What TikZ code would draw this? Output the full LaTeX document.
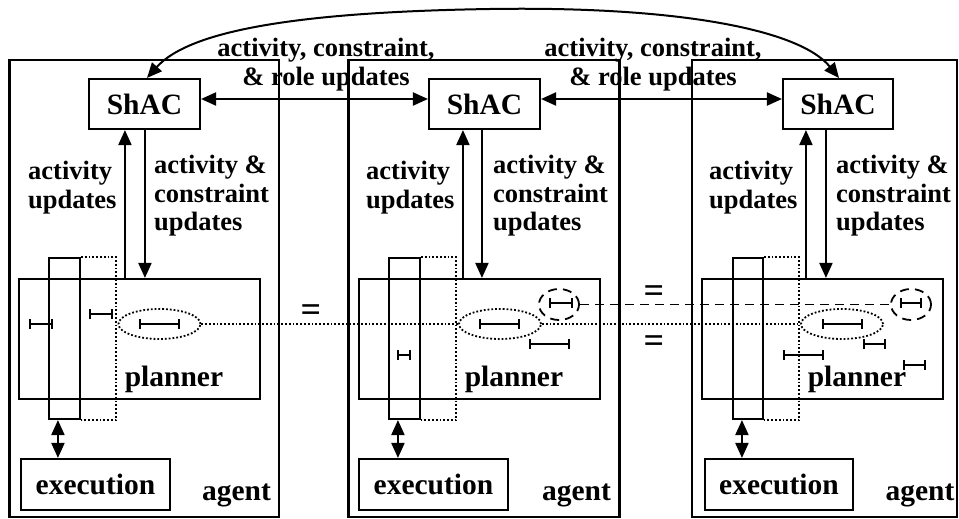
\documentclass[tikz,border=0pt]{standalone}
\usepackage{fontspec}
\setmainfont{Liberation Serif}
\usetikzlibrary{arrows.meta,calc,shapes.geometric}
\begin{document}
\begin{tikzpicture}[x=1pt,y=-1pt,
  box/.style={draw,line width=2.1pt,inner sep=0pt},
  boxtxt/.style={font=\fontsize{29.5}{32}\selectfont\bfseries},
  lbl/.style={font=\fontsize{26.5}{28.5}\selectfont\bfseries,inner sep=0pt},
  arr/.style={line width=2pt,-{Triangle[length=15pt,width=13pt]}},
  darr/.style={line width=2pt,{Triangle[length=15pt,width=13pt]}-{Triangle[length=15pt,width=13pt]}},
  ival/.style={line width=1.7pt,{Bar[width=10pt]}-{Bar[width=10pt]}},
  dotl/.style={line width=1.8pt,dotted},
  dashl/.style={line width=1.8pt,dash pattern=on 9pt off 6pt},
  eqs/.style={font=\fontsize{36}{36}\selectfont\bfseries,inner sep=0pt},
  ell/.style={draw,dotl,ellipse,inner sep=0pt,minimum width=82pt,minimum height=30pt},
  dcirc/.style={draw,dashl,ellipse,inner sep=0pt,minimum width=40pt,minimum height=31pt},
]
\useasboundingbox (0,0) rectangle (959,519);

% agent boxes
\node[box,minimum width=269.5pt,minimum height=457pt] (ag1) at (144.25,288.5) {};
\node[box,minimum width=271pt,minimum height=457pt] (ag2) at (484,288.5) {};
\node[box,minimum width=265pt,minimum height=457pt] (ag3) at (824.5,288.5) {};

% ShAC boxes
\node[box,boxtxt,minimum width=111pt,minimum height=50pt] (sh1) at (144.5,104) {ShAC};
\node[box,boxtxt,minimum width=111pt,minimum height=50pt] (sh2) at (484.5,104) {ShAC};
\node[box,boxtxt,minimum width=110pt,minimum height=50pt] (sh3) at (838,104) {ShAC};

% planner boxes
\node[box,minimum width=241pt,minimum height=120pt] (pl1) at (139.5,339) {};
\node[box,minimum width=241pt,minimum height=120pt] (pl2) at (479.5,339) {};
\node[box,minimum width=241pt,minimum height=120pt] (pl3) at (822.5,339) {};
\node[boxtxt,inner sep=0pt] at (174,379) {planner};
\node[boxtxt,inner sep=0pt] at (514,379) {planner};
\node[boxtxt,inner sep=0pt] at (857,379) {planner};

% bars
\node[box,minimum width=31pt,minimum height=161pt] (bar1) at (64.5,338.5) {};
\node[box,minimum width=31pt,minimum height=161pt] (bar2) at (404.5,338.5) {};
\node[box,minimum width=30pt,minimum height=161pt] (bar3) at (748,338.5) {};
\draw[dotl] (bar1.north east) -- ++(35,0) |- (bar1.south east);
\draw[dotl] (bar2.north east) -- ++(35,0) |- (bar2.south east);
\draw[dotl] (bar3.north east) -- ++(35,0) |- (bar3.south east);

% execution boxes
\node[box,boxtxt,minimum width=149pt,minimum height=51pt] (ex1) at (95.5,484.5) {execution};
\node[box,boxtxt,minimum width=149pt,minimum height=51pt] (ex2) at (433.5,484.5) {execution};
\node[box,boxtxt,minimum width=148pt,minimum height=51pt] (ex3) at (779,484.5) {execution};

% agent labels
\node[boxtxt,inner sep=0pt] at (236.5,495) {agent};
\node[boxtxt,inner sep=0pt] at (576.5,495) {agent};
\node[boxtxt,inner sep=0pt] at (920,495) {agent};

% bar <-> execution
\coordinate (e1) at ($(bar1.south west)+(10,0)$);
\coordinate (e2) at ($(bar2.south west)+(10,0)$);
\coordinate (e3) at ($(bar3.south west)+(10,0)$);
\draw[darr] (e1) -- (e1 |- ex1.north);
\draw[darr] (e2) -- (e2 |- ex2.north);
\draw[darr] (e3) -- (e3 |- ex3.north);

% planner <-> ShAC
\coordinate (u1) at ($(sh1.south west)+(37,0)$);
\coordinate (d1) at ($(sh1.south west)+(57,0)$);
\coordinate (u2) at ($(sh2.south west)+(35,0)$);
\coordinate (d2) at ($(sh2.south west)+(54,0)$);
\coordinate (u3) at ($(sh3.south west)+(24,0)$);
\coordinate (d3) at ($(sh3.south west)+(44,0)$);
\draw[arr] (u1 |- pl1.north) -- (u1);
\draw[arr] (d1) -- (d1 |- pl1.north);
\draw[arr] (u2 |- pl2.north) -- (u2);
\draw[arr] (d2) -- (d2 |- pl2.north);
\draw[arr] (u3 |- pl3.north) -- (u3);
\draw[arr] (d3) -- (d3 |- pl3.north);

% ShAC <-> ShAC
\draw[darr] ([yshift=5pt]sh1.east) -- ([yshift=5pt]sh2.west);
\draw[darr] ([yshift=5pt]sh2.east) -- ([yshift=5pt]sh3.west);
\draw[darr] ([xshift=2.5pt]sh1.north) .. controls (190,30) and (300,12) .. (490,9)
   .. controls (680,6) and (800,30) .. ([xshift=1pt]sh3.north);

% labels
\node[lbl,align=center,anchor=north] at (326,38) {activity, constraint,\\\& role updates};
\node[lbl,align=center,anchor=north] at (653,38) {activity, constraint,\\\& role updates};
\node[lbl,align=left,anchor=north west] at (28,161) {activity\\updates};
\node[lbl,align=left,anchor=north west] at (366,161) {activity\\updates};
\node[lbl,align=left,anchor=north west] at (709,161) {activity\\updates};
\node[lbl,align=left,anchor=north west] at (154,155) {activity \&\\constraint\\updates};
\node[lbl,align=left,anchor=north west] at (493,155) {activity \&\\constraint\\updates};
\node[lbl,align=left,anchor=north west] at (836,155) {activity \&\\constraint\\updates};

% ellipses and dashed circles
\node[ell] (el1) at (159.5,324) {};
\node[ell] (el2) at (500,324) {};
\node[ell] (el3) at (842,324) {};
\node[dcirc] (dc2) at (559,304.5) {};
\node[dcirc] (dc3) at (911,304.5) {};
\draw[dotl] (el1.east) -- (el2.west);
\draw[dotl] (el2.east) -- (el3.west);
\draw[dashl] (dc2.east) -- (dc3.west);

% equals signs
\node[eqs] at (311,313) {=};
\node[eqs] at (654,294) {=};
\node[eqs] at (654,344) {=};

% intervals
\draw[ival] (29,324) -- (53,324);
\draw[ival] (89,314) -- (113,314);
\draw[ival] (139,324) -- (180,324);
\draw[ival] (397,355) -- (411,355);
\draw[ival] (479,324) -- (520,324);
\draw[ival] (529,344) -- (570,344);
\draw[ival] (549,303) -- (573,303);
\draw[ival] (822,324) -- (863,324);
\draw[ival] (863,344) -- (886,344);
\draw[ival] (783,355) -- (824,355);
\draw[ival] (903,365) -- (926,365);
\draw[ival] (900,303) -- (922,303);
\end{tikzpicture}
\end{document}
